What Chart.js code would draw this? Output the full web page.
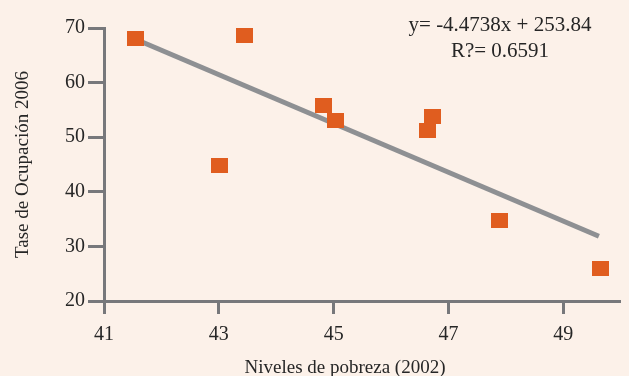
<!DOCTYPE html>
<html>
<head>
<meta charset="utf-8">
<script src="https://cdn.jsdelivr.net/npm/chart.js@4"></script>
<style>
  html, body { margin: 0; padding: 0; background: #fcf1e9; overflow: hidden; }
  canvas { display: block; }
</style>
</head>
<body>
<canvas id="c" width="629" height="376"></canvas>
<script>
  "use strict";

  // ---- data ----
  const poverty2002 = [41.55, 43.44, 43.02, 44.82, 45.04, 46.63, 46.73, 47.89, 49.64];
  const occupation2006 = [68.0, 68.7, 44.8, 55.8, 53.1, 51.3, 53.8, 34.8, 25.9];
  const trendX = [41.55, 49.62];
  const trendY = [67.95, 31.85];
  const xTicks = [41, 43, 45, 47, 49];
  const yTicks = [20, 30, 40, 50, 60, 70];
  const equationLines = ["y= -4.4738x + 253.84", "R?= 0.6591"];
  const xTitle = "Niveles de pobreza (2002)";
  const yTitle = "Tase de Ocupación 2006";

  const COL = {
    point: "#e05d1f",
    trend: "#8e9093",
    axis: "#77787b",
    text: "#262626",
  };
  const FONT = "'Liberation Serif', 'DejaVu Serif', serif";

  // rectangular marker, a bit wider than tall
  const marker = document.createElement("canvas");
  marker.width = 17; marker.height = 15;
  (function () {
    const m = marker.getContext("2d");
    m.fillStyle = COL.point;
    m.fillRect(0, 0, 17, 15);
  })();

  const notes = {
    id: "notes",
    afterDraw(chart) {
      const { ctx, chartArea } = chart;
      ctx.save();
      ctx.fillStyle = COL.text;
      ctx.textAlign = "center";
      ctx.textBaseline = "alphabetic";
      ctx.font = "21px " + FONT;
      ctx.fillText(equationLines[0], 500, 31);
      ctx.fillText(equationLines[1], 500, 57);
      ctx.font = "19px " + FONT;
      ctx.fillText(xTitle, 345, chartArea.bottom + 72);
      ctx.restore();
    },
  };

  const tickSetter = (vals) => (scale) => { scale.ticks = vals.map((v) => ({ value: v })); };

  new Chart(document.getElementById("c"), {
    type: "scatter",
    data: {
      datasets: [
        {
          label: "data",
          data: poverty2002.map((x, i) => ({ x, y: occupation2006[i] })),
          pointStyle: marker,
          pointRadius: 9,
          pointHoverRadius: 9,
          order: 0,
          clip: false,
        },
        {
          type: "line",
          label: "trend",
          data: trendX.map((x, i) => ({ x, y: trendY[i] })),
          borderColor: COL.trend,
          borderWidth: 5,
          borderCapStyle: "butt",
          pointRadius: 0,
          fill: false,
          order: 1,
          clip: false,
        },
      ],
    },
    options: {
      responsive: false,
      animation: false,
      events: [],
      layout: { padding: { top: 28, right: 0, left: 0, bottom: 0 } },
      plugins: { legend: { display: false }, tooltip: { enabled: false } },
      scales: {
        x: {
          type: "linear",
          min: 41, max: 49.97,
          afterBuildTicks: tickSetter(xTicks),
          afterFit(s) { s.height = 75; },
          border: { color: COL.axis, width: 3 },
          grid: { drawOnChartArea: false, drawTicks: true, tickLength: 13, color: COL.axis, lineWidth: 3 },
          ticks: { color: COL.text, font: { family: FONT, size: 20 }, padding: 9, maxRotation: 0 },
        },
        y: {
          type: "linear",
          min: 20, max: 70,
          afterBuildTicks: tickSetter(yTicks),
          afterFit(s) { s.width = 104; },
          border: { color: COL.axis, width: 3 },
          grid: { drawOnChartArea: false, drawTicks: true, tickLength: 16, color: COL.axis, lineWidth: 3 },
          ticks: { color: COL.text, font: { family: FONT, size: 20 }, padding: 3 },
          title: {
            display: true, text: yTitle, color: COL.text,
            font: { family: FONT, size: 19 }, padding: { top: 12, bottom: 0 },
          },
        },
      },
    },
    plugins: [notes],
  });
</script>
</body>
</html>
